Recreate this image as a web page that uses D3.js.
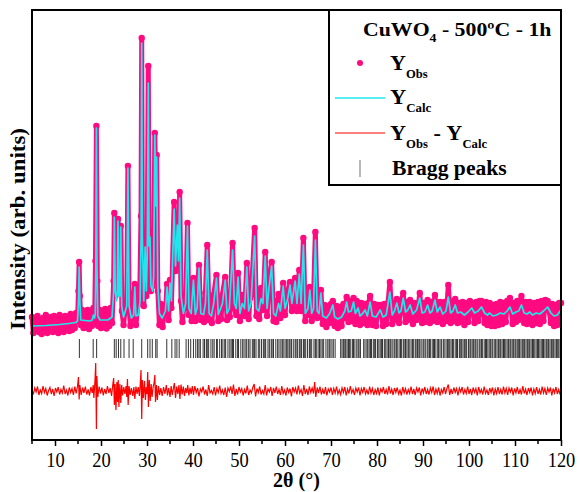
<!DOCTYPE html>
<html>
<head>
<meta charset="utf-8">
<script src="https://cdn.jsdelivr.net/npm/d3@7"></script>
<style>
  body { margin: 0; background: #fff; }
  svg text { font-family: "Liberation Serif", "DejaVu Serif", serif; }
</style>
</head>
<body>
<div id="chart"></div>
<script>
// ---- data (2theta in degrees, intensity in counts) ----

// calculated profile: valleys and peak tops
const calcProfile = [
  [5.0,200],[8.0,210],[11.0,230],[13.0,250],[14.5,270],[14.9,300],[15.1,700],[15.25,1380],[15.4,700],[15.6,320],
  [17.5,300],[18.1,320],[18.35,420],[18.6,360],[18.75,450],[18.88,1400],[19.0,4160],[19.12,1400],[19.3,400],[19.8,320],
  [21.5,320],[22.4,380],[22.75,900],[22.9,2380],[23.1,900],[23.35,700],[23.55,900],[23.7,2300],[23.9,800],[24.15,800],
  [24.3,2180],[24.5,600],[24.9,380],[25.6,600],[25.85,3360],[26.1,600],[26.6,360],[27.1,420],[27.35,980],[27.6,400],
  [28.1,420],[28.5,700],[28.72,2000],[28.85,5860],[28.98,2000],[29.3,700],[29.6,1780],[29.85,900],[30.05,1600],[30.28,5060],
  [30.45,1800],[30.65,1980],[30.85,1000],[31.25,900],[31.45,1200],[31.7,4020],[31.9,2600],[32.1,3580],[32.35,1000],[32.7,450],
  [33.3,360],[34.0,500],[34.35,980],[34.7,500],[35.0,1060],[35.3,700],[35.9,2540],[36.2,1400],[36.6,2220],[36.85,1500],
  [37.1,2760],[37.4,800],[37.9,450],[38.4,650],[38.8,2200],[39.1,550],[39.6,450],[40.1,1120],[40.5,430],[40.9,560],
  [41.3,1360],[41.7,450],[42.3,430],[42.7,650],[43.1,1720],[43.5,450],[44.0,400],[44.5,650],[45.1,1160],[45.5,430],
  [46.0,550],[46.4,650],[47.0,1120],[47.4,450],[47.9,550],[48.6,1720],[49.0,650],[49.4,550],[49.8,1180],[50.2,450],
  [50.7,650],[51.2,550],[51.7,1380],[52.1,500],[52.6,650],[53.4,2000],[53.8,550],[54.3,500],[54.8,750],[55.2,650],
  [55.7,1600],[56.1,550],[56.5,950],[57.1,1400],[57.5,450],[58.0,400],[58.6,650],[59.0,500],[59.6,1000],[60.0,550],
  [60.6,750],[61.1,1020],[61.5,650],[62.2,1100],[62.6,650],[63.1,1240],[63.5,650],[64.0,1820],[64.4,450],[65.0,550],
  [65.4,920],[65.8,450],[66.2,550],[66.6,1920],[67.0,500],[67.4,450],[67.8,860],[68.2,400],[69.0,360],[69.7,450],
  [70.4,620],[70.8,380],[71.5,340],[72.3,380],[73.0,500],[73.4,680],[73.8,480],[74.4,500],[74.9,680],[75.3,450],
  [75.9,560],[76.3,400],[76.9,450],[77.4,520],[77.9,400],[78.5,680],[79.0,400],[79.8,380],[80.7,520],[81.3,380],
  [82.0,420],[82.8,880],[83.3,420],[83.8,500],[84.3,660],[84.8,460],[85.2,500],[85.7,760],[86.2,480],[86.7,520],
  [87.2,620],[87.8,440],[88.6,520],[89.3,760],[89.8,460],[90.4,480],[91.0,620],[91.5,460],[92.0,500],[92.6,720],
  [93.1,480],[93.7,580],[94.3,440],[95.0,500],[95.5,780],[96.0,460],[96.5,500],[97.0,620],[97.5,460],[98.2,480],
  [99.0,420],[99.8,480],[100.6,560],[101.2,460],[102.0,500],[102.7,580],[103.4,460],[104.0,420],[104.5,460],[105.2,400],
  [106.0,420],[106.8,460],[107.6,440],[108.3,500],[108.9,580],[109.5,440],[110.2,480],[110.8,500],[111.4,620],[112.0,460],
  [112.6,440],[113.2,480],[113.8,420],[114.6,460],[115.4,440],[116.2,500],[117.1,580],[117.8,460],[118.5,400],[119.2,420],
  [120.0,520]
];

// observed points
const obsProfile = [
  [5.0,380],[5.3,60],[5.6,340],[5.9,120],[6.2,400],[6.5,80],[6.8,300],[7.1,40],[7.4,360],[7.7,100],
  [8.0,420],[8.3,60],[8.6,320],[8.9,140],[9.2,380],[9.5,80],[9.8,400],[10.1,100],[10.4,340],[10.7,60],
  [11.0,420],[11.3,120],[11.6,360],[11.9,80],[12.2,400],[12.5,140],[12.8,380],[13.1,100],[13.4,440],[13.7,120],
  [14.0,420],[14.3,160],[14.6,460],[14.9,300],[15.1,900],[15.25,1480],[15.4,800],[15.6,220],[15.9,520],[16.2,160],
  [16.5,480],[16.8,180],[17.1,520],[17.4,140],[17.7,500],[18.0,200],[18.35,560],[18.6,240],[18.8,1500],[19.0,4200],
  [19.2,1100],[19.4,200],[19.7,520],[20.0,160],[20.3,500],[20.6,180],[20.9,540],[21.2,150],[21.5,520],[21.8,200],
  [22.1,560],[22.4,260],[22.75,1100],[22.9,2460],[23.1,800],[23.4,900],[23.7,2340],[23.9,900],[24.1,900],[24.3,2200],
  [24.55,500],[24.9,220],[25.3,600],[25.6,700],[25.85,3400],[26.1,600],[26.4,200],[26.8,580],[27.35,1040],[27.6,220],
  [28.0,620],[28.4,700],[28.7,2400],[28.85,5960],[29.0,1600],[29.3,600],[29.6,1840],[29.85,800],[30.05,1800],[30.28,5400],
  [30.45,1700],[30.65,2060],[30.85,900],[31.2,1000],[31.45,1300],[31.7,4060],[31.9,2500],[32.1,3620],[32.35,900],[32.7,220],
  [33.0,640],[33.4,180],[33.7,600],[34.0,420],[34.35,1040],[34.7,320],[35.0,1120],[35.3,560],[35.9,2680],[36.2,1300],
  [36.6,2300],[36.85,1400],[37.1,2880],[37.4,700],[37.7,280],[38.1,680],[38.4,560],[38.8,2260],[39.1,420],[39.4,760],
  [39.7,300],[40.1,1160],[40.5,300],[40.9,760],[41.3,1420],[41.7,320],[42.0,700],[42.4,280],[42.7,860],[43.1,1820],
  [43.5,320],[43.8,720],[44.1,260],[44.5,820],[45.1,1220],[45.5,300],[45.8,740],[46.1,340],[46.4,820],[47.0,1180],
  [47.4,320],[47.7,720],[48.0,380],[48.6,1860],[49.0,560],[49.4,420],[49.8,1260],[50.2,300],[50.5,720],[50.8,820],
  [51.2,400],[51.7,1460],[52.1,340],[52.4,760],[52.7,820],[53.4,2160],[53.8,400],[54.1,760],[54.4,340],[54.8,960],
  [55.2,520],[55.7,1680],[56.1,400],[56.5,1080],[57.1,1480],[57.5,300],[57.8,700],[58.1,280],[58.6,840],[59.0,360],
  [59.6,1060],[60.0,420],[60.3,780],[60.6,900],[61.1,1080],[61.5,500],[61.8,860],[62.2,1160],[62.6,500],[63.1,1320],
  [63.5,500],[64.0,1960],[64.4,300],[64.7,760],[65.0,420],[65.4,980],[65.8,300],[66.2,760],[66.6,2080],[67.0,360],
  [67.4,680],[67.8,920],[68.2,240],[68.6,620],[69.0,180],[69.4,600],[69.7,260],[70.0,640],[70.4,700],[70.8,200],
  [71.2,600],[71.5,160],[71.9,580],[72.3,200],[72.7,640],[73.0,360],[73.4,780],[73.8,280],[74.1,700],[74.4,300],
  [74.9,760],[75.3,240],[75.6,700],[75.9,640],[76.3,220],[76.6,660],[76.9,260],[77.4,640],[77.9,220],[78.2,660],
  [78.5,800],[79.0,220],[79.4,640],[79.8,200],[80.2,620],[80.7,620],[81.3,200],[81.6,640],[82.0,240],[82.4,660],
  [82.8,1080],[83.3,240],[83.6,660],[83.8,320],[84.3,740],[84.8,260],[85.2,660],[85.7,860],[86.2,280],[86.5,680],
  [86.7,320],[87.2,720],[87.8,240],[88.2,660],[88.6,320],[89.3,860],[89.8,260],[90.1,660],[90.4,280],[91.0,720],
  [91.5,260],[91.8,680],[92.0,300],[92.6,820],[93.1,280],[93.4,660],[93.7,680],[94.3,240],[94.7,680],[95.0,300],
  [95.5,1020],[96.0,260],[96.3,680],[96.5,300],[97.0,740],[97.5,260],[97.8,660],[98.2,280],[98.6,680],[99.0,220],
  [99.4,660],[99.8,280],[100.2,700],[100.6,660],[101.2,260],[101.6,680],[102.0,300],[102.3,700],[102.7,700],[103.4,260],
  [103.7,680],[104.0,220],[104.5,660],[104.9,200],[105.2,620],[105.6,200],[106.0,640],[106.4,220],[106.8,680],[107.2,240],
  [107.6,660],[108.0,280],[108.3,700],[108.9,760],[109.5,240],[109.8,660],[110.2,280],[110.5,700],[110.8,320],[111.4,800],
  [112.0,260],[112.3,680],[112.6,240],[113.2,680],[113.8,220],[114.2,660],[114.6,260],[115.0,680],[115.4,240],[115.8,700],
  [116.2,300],[116.6,720],[117.1,700],[117.8,260],[118.1,640],[118.5,200],[118.9,620],[119.2,220],[119.6,660],[120.0,660]
];

// difference Yobs - Ycalc (drawn shifted down by diffOffset)
const diffProfile = [
  [5.0,30],[5.3,-70],[5.6,60],[5.9,-20],[6.2,90],[6.5,-80],[6.8,20],[7.1,-50],[7.4,100],[7.7,-30],
  [8.0,50],[8.3,-90],[8.6,10],[8.9,70],[9.2,-60],[9.5,40],[9.8,-100],[10.1,60],[10.4,-20],[10.7,80],
  [11.0,-70],[11.3,30],[11.6,-40],[11.9,110],[12.2,-60],[12.5,20],[12.8,-90],[13.1,70],[13.4,-30],[13.7,50],
  [14.0,-80],[14.3,90],[14.6,-50],[14.9,100],[15.1,280],[15.25,-170],[15.4,120],[15.7,-80],[16.0,70],[16.3,-40],
  [16.6,90],[16.9,-70],[17.2,30],[17.5,-90],[17.8,80],[18.1,-40],[18.3,120],[18.45,-140],[18.7,220],[18.85,560],
  [19.0,-760],[19.1,300],[19.3,-120],[19.6,90],[19.9,-50],[20.2,70],[20.5,-90],[20.8,40],[21.1,-60],[21.4,100],
  [21.7,-40],[22.0,60],[22.3,-100],[22.55,120],[22.75,260],[22.9,-280],[23.05,140],[23.25,-380],[23.45,180],[23.6,-220],
  [23.75,220],[23.9,-320],[24.1,140],[24.3,-240],[24.5,120],[24.7,-90],[24.95,80],[25.2,-60],[25.45,100],[25.6,-120],
  [25.75,240],[25.9,-280],[26.1,100],[26.35,-80],[26.6,60],[26.9,-100],[27.15,80],[27.35,-160],[27.6,90],[27.85,-60],
  [28.1,80],[28.35,-100],[28.55,160],[28.7,420],[28.85,-560],[29.0,220],[29.2,-140],[29.45,200],[29.65,-180],[29.85,80],
  [30.0,-60],[30.15,380],[30.3,-320],[30.5,220],[30.7,-200],[30.9,140],[31.1,-120],[31.35,90],[31.55,160],[31.7,320],
  [31.85,-220],[32.05,120],[32.25,-180],[32.5,100],[32.75,-80],[33.0,60],[33.3,-100],[33.6,80],[33.9,-60],[34.2,120],
  [34.45,-90],[34.7,60],[35.0,-120],[35.25,100],[35.5,-80],[35.75,60],[35.95,160],[36.2,-140],[36.45,90],[36.7,-60],
  [36.95,120],[37.15,-160],[37.4,130],[37.65,-70],[37.9,90],[38.15,-100],[38.4,60],[38.65,-40],[38.85,120],[39.1,-90],
  [39.35,70],[39.6,-60],[39.85,100],[40.1,-80],[40.4,100],[40.7,-30],[41.0,60],[41.3,-110],[41.6,40],[41.9,-20],
  [42.2,90],[42.5,-70],[42.8,30],[43.1,-100],[43.4,120],[43.7,-40],[44.0,10],[44.3,-60],[44.6,80],[44.9,-90],
  [45.2,50],[45.5,-30],[45.8,110],[46.1,-50],[46.4,20],[46.7,-80],[47.0,70],[47.3,-120],[47.6,60],[47.9,-10],
  [48.2,90],[48.5,-60],[48.8,130],[49.1,-100],[49.4,40],[49.7,-70],[50.0,80],[50.3,-20],[50.6,50],[50.9,-90],
  [51.2,30],[51.5,-50],[51.8,110],[52.1,-80],[52.4,20],[52.7,-40],[53.0,70],[53.3,140],[53.6,-110],[53.9,50],
  [54.2,-30],[54.5,90],[54.8,-70],[55.1,10],[55.4,-60],[55.7,120],[56.0,-90],[56.3,40],[56.6,-20],[56.9,80],
  [57.2,-100],[57.5,60],[57.8,-40],[58.1,90],[58.4,-60],[58.7,30],[59.0,-80],[59.3,100],[59.6,-50],[59.9,20],
  [60.2,-90],[60.5,70],[60.8,-30],[61.1,50],[61.4,-110],[61.7,80],[62.0,-20],[62.3,60],[62.6,-70],[62.9,110],
  [63.2,-40],[63.5,30],[63.8,-100],[64.1,120],[64.4,-60],[64.7,40],[65.0,-80],[65.3,90],[65.6,-30],[65.9,60],
  [66.2,-50],[66.45,180],[66.7,-120],[67.0,70],[67.3,-40],[67.6,90],[67.9,-70],[68.2,30],[68.5,-60],[68.8,80],
  [69.1,-90],[69.4,40],[69.7,-20],[70.0,70],[70.3,-80],[70.6,50],[70.9,-40],[71.2,90],[71.5,-60],[71.8,20],
  [72.1,-70],[72.4,60],[72.7,-30],[73.0,80],[73.3,-90],[73.6,40],[73.9,-50],[74.2,100],[74.5,-40],[74.8,30],
  [75.1,-80],[75.4,60],[75.7,-20],[76.0,70],[76.3,-90],[76.6,50],[76.9,-30],[77.2,80],[77.5,-60],[77.8,20],
  [78.1,-70],[78.4,90],[78.7,-40],[79.0,50],[79.3,-80],[79.6,30],[79.9,-50],[80.2,70],[80.5,-90],[80.8,40],
  [81.1,-20],[81.4,80],[81.7,-60],[82.0,30],[82.3,-70],[82.6,100],[82.9,-50],[83.2,40],[83.5,-80],[83.8,60],
  [84.1,-30],[84.4,70],[84.7,-60],[85.0,20],[85.3,-90],[85.6,80],[85.9,-40],[86.2,50],[86.5,-70],[86.8,30],
  [87.1,-50],[87.4,90],[87.7,-60],[88.0,40],[88.3,-80],[88.6,60],[88.9,-20],[89.2,70],[89.5,-90],[89.8,50],
  [90.1,-40],[90.4,80],[90.7,-60],[91.0,30],[91.3,-70],[91.6,60],[91.9,-30],[92.2,90],[92.5,-80],[92.8,40],
  [93.1,-50],[93.4,70],[93.7,-90],[94.0,30],[94.3,-40],[94.6,80],[94.9,-60],[95.2,50],[95.5,130],[95.8,-80],
  [96.1,40],[96.4,-60],[96.7,70],[97.0,-30],[97.3,50],[97.6,-90],[97.9,60],[98.2,-20],[98.5,80],[98.8,-70],
  [99.1,30],[99.4,-50],[99.7,90],[100.0,-60],[100.3,40],[100.6,-80],[100.9,70],[101.2,-30],[101.5,50],[101.8,-90],
  [102.1,80],[102.4,-40],[102.7,30],[103.0,-70],[103.3,90],[103.6,-50],[103.9,20],[104.2,-80],[104.5,60],[104.8,-30],
  [105.1,70],[105.4,-90],[105.7,40],[106.0,-50],[106.3,80],[106.6,-60],[106.9,30],[107.2,-70],[107.5,90],[107.8,-40],
  [108.1,50],[108.4,-80],[108.7,60],[109.0,-20],[109.3,70],[109.6,-90],[109.9,50],[110.2,-40],[110.5,80],[110.8,-60],
  [111.1,30],[111.4,-70],[111.7,100],[112.0,-50],[112.3,40],[112.6,-80],[112.9,60],[113.2,-30],[113.5,70],[113.8,-90],
  [114.1,40],[114.4,-50],[114.7,80],[115.0,-60],[115.3,30],[115.6,-70],[115.9,90],[116.2,-40],[116.5,50],[116.8,-80],
  [117.1,60],[117.4,-20],[117.7,70],[118.0,-90],[118.3,50],[118.6,-40],[118.9,80],[119.2,-60],[119.5,30],[119.8,-70],
  [120.0,40]
];

// Bragg reflection positions (2theta)
const braggPeaks = [
  15.3, 18.3, 19.05, 22.9, 23.3, 23.8, 24.3, 25.0, 26.1, 27.0, 28.85, 30.15, 30.65, 31.15, 31.9, 32.2,
  34.3, 35.4, 36.1, 36.5, 37.0, 38.5, 39.0, 39.5,
  40.1, 40.6, 41.0, 41.3, 41.6, 42.2, 42.5, 42.9, 43.1, 43.4, 43.9, 44.3, 44.6, 45.1, 45.3, 45.8, 46.2, 46.5,
  46.9, 47.1, 47.6, 48.0, 48.3, 48.6, 48.8, 49.3, 49.7, 49.9, 50.4, 50.8, 51.1, 51.5, 51.7, 52.1, 52.4, 52.9,
  53.2, 53.4, 53.7, 54.2, 54.5, 54.9, 55.3, 55.6, 55.8, 56.3, 56.6, 57.0, 57.2, 57.5, 58.0, 58.4, 58.7, 59.1,
  59.4, 59.6, 60.0, 60.3, 60.6, 60.9, 61.1, 61.4, 61.8, 62.2, 62.4, 62.7, 63.1, 63.3, 63.6, 64.0, 64.2, 64.5,
  64.9, 65.3, 65.5, 65.8, 66.3, 66.6, 66.8, 67.2, 67.5, 67.8, 68.1, 68.4, 68.9, 69.3, 69.6, 69.8, 70.2, 70.5,
  70.9, 72.1, 72.4, 72.7, 73.0, 73.2, 73.5, 73.8, 74.0, 74.3, 74.7, 74.9, 75.2, 75.6, 75.9, 76.1, 76.4, 77.1,
  77.4, 77.8, 78.0, 78.3, 78.6, 78.8, 79.2, 79.5, 79.7, 80.1, 80.4, 80.7, 81.0, 81.2, 81.6, 81.9, 82.2, 82.5,
  82.8, 83.0, 83.3, 83.7, 83.9, 84.2, 84.4, 84.8, 85.1, 85.3, 85.7, 85.9, 86.2, 86.5, 86.8, 87.0, 87.4, 87.7,
  87.9, 88.3, 88.5, 88.8, 89.1, 89.3, 89.6, 90.0, 90.2, 90.5, 90.9, 91.1, 91.4, 91.6, 92.0, 92.3, 92.5, 92.8,
  93.2, 93.4, 93.7, 94.0, 94.4, 94.6, 95.0, 95.3, 95.5, 95.8, 96.1, 96.4, 96.6, 97.0, 97.3, 97.5, 97.9, 98.1,
  98.4, 98.7, 99.0, 99.3, 99.5, 99.9, 100.2, 100.4, 100.7, 101.0, 101.3, 101.5, 101.8, 102.2, 102.4, 102.7,
  102.9, 103.3, 103.6, 103.8, 104.1, 104.4, 104.7, 105.0, 105.2, 105.6, 105.8, 106.1, 106.4, 106.7, 106.9,
  107.2, 107.5, 107.7, 108.0, 108.3, 108.6, 108.9, 109.1, 109.4, 109.7, 110.0, 110.2, 110.5, 110.8, 111.0,
  111.3, 111.6, 111.9, 112.1, 112.4, 112.7, 113.0, 113.2, 113.5, 113.8, 114.0, 114.3, 114.6, 114.9, 115.1,
  115.4, 115.7, 116.0, 116.2, 116.5, 116.8, 117.0, 117.3, 117.6, 117.9, 118.1, 118.4, 118.7, 119.0, 119.2,
  119.5, 119.8
];

const majorTicks = [10, 20, 30, 40, 50, 60, 70, 80, 90, 100, 110, 120];
const minorTicks = [5, 15, 25, 35, 45, 55, 65, 75, 85, 95, 105, 115];

const diffOffset = -1100;           // where the zero of the difference curve sits
const braggRange = [-440, -60];     // vertical extent of the Bragg markers

const pink = "#ff0a80", cyan = "#1ee8ee", red = "#ff0000";

const margin = {top: 10, right: 19, bottom: 52, left: 32};
const width = 580 - margin.left - margin.right;
const height = 492 - margin.top - margin.bottom;

const svg = d3.select("#chart").append("svg")
    .attr("width", 580)
    .attr("height", 492)
  .append("g")
    .attr("transform", `translate(${margin.left},${margin.top})`);

const x = d3.scaleLinear().domain([5, 120]).range([0, width]);
const y = d3.scaleLinear().domain([-2080, 6520]).range([height, 0]);

const line = d3.line().x(d => x(d[0])).y(d => y(d[1]));

// stretch a left-anchored text horizontally to a given width
function fitWidth(sel, target) {
  const b = sel.node().getBBox();
  const k = target / b.width;
  sel.attr("transform", `translate(${b.x * (1 - k)},0) scale(${k},1)`);
}

// observed: thick band + dots
svg.append("path")
    .attr("d", line(obsProfile))
    .attr("fill", "none")
    .attr("stroke", pink)
    .attr("stroke-width", 5)
    .attr("stroke-linejoin", "round")
    .attr("stroke-linecap", "round");

svg.selectAll("circle.obs")
    .data(obsProfile)
    .join("circle")
    .attr("class", "obs")
    .attr("cx", d => x(d[0]))
    .attr("cy", d => y(d[1]))
    .attr("r", 3.2)
    .attr("fill", pink);

// calculated
svg.append("path")
    .attr("d", line(calcProfile))
    .attr("fill", "none")
    .attr("stroke", cyan)
    .attr("stroke-width", 1.7)
    .attr("stroke-linejoin", "round");

// Bragg markers
svg.append("g")
  .selectAll("line")
  .data(braggPeaks)
  .join("line")
    .attr("x1", d => x(d)).attr("x2", d => x(d))
    .attr("y1", y(braggRange[1])).attr("y2", y(braggRange[0]))
    .attr("stroke", "#111")
    .attr("stroke-opacity", 0.85)
    .attr("stroke-width", 1);

// difference
const diffLine = d3.line().x(d => x(d[0])).y(d => y(d[1] + diffOffset));
svg.append("path")
    .attr("d", diffLine(diffProfile))
    .attr("fill", "none")
    .attr("stroke", red)
    .attr("stroke-width", 1.2);

// frame
svg.append("rect")
    .attr("width", width).attr("height", height)
    .attr("fill", "none")
    .attr("stroke", "#000")
    .attr("stroke-width", 2);

// x axis
const xAxis = svg.append("g")
    .attr("transform", `translate(0,${height})`)
    .call(d3.axisBottom(x).tickValues(majorTicks).tickSize(6).tickPadding(5).tickFormat(d3.format("d")));
xAxis.select(".domain").remove();
xAxis.selectAll(".tick line").attr("stroke-width", 1.5);
xAxis.selectAll("text")
    .style("font-family", "'Liberation Serif', serif")
    .attr("font-size", 22)
    .attr("transform", "scale(0.84,1)")
    .attr("fill", "#000");

svg.append("g")
    .attr("transform", `translate(0,${height})`)
    .selectAll("line")
    .data(minorTicks)
    .join("line")
    .attr("x1", d => x(d)).attr("x2", d => x(d))
    .attr("y1", 0).attr("y2", 4)
    .attr("stroke", "#000").attr("stroke-width", 1.5);

// axis titles
svg.append("text")
    .attr("x", width / 2)
    .attr("y", height + 47)
    .attr("text-anchor", "middle")
    .attr("font-weight", "bold")
    .attr("font-size", 20)
    .text("2θ (°)");

svg.append("text")
    .attr("transform", "rotate(-90)")
    .attr("x", -219)
    .attr("y", -7)
    .attr("text-anchor", "middle")
    .attr("font-weight", "bold")
    .attr("font-size", 20)
    .attr("textLength", 202)
    .attr("lengthAdjust", "spacingAndGlyphs")
    .text("Intensity (arb. units)");

// legend
const lg = svg.append("g").attr("transform", `translate(${x(5) + 297},0)`);
lg.append("rect")
    .attr("width", width - 297).attr("height", 175)
    .attr("fill", "#fff")
    .attr("stroke", "#000")
    .attr("stroke-width", 2);

const title = lg.append("text")
    .attr("x", 34).attr("y", 26)
    .attr("font-weight", "bold")
    .attr("font-size", 19);
title.append("tspan").text("CuWO");
title.append("tspan").attr("font-size", 12).attr("dy", 6).text("4");
title.append("tspan").attr("dy", -6).text(" - 500ºC - 1h");
fitWidth(title, 189);

function legendLabel(yPos, parts, w) {
  const t = lg.append("text")
      .attr("x", 61).attr("y", yPos)
      .attr("font-weight", "bold")
      .attr("font-size", 21);
  parts.forEach(p => {
    t.append("tspan").text(p[0]);
    t.append("tspan").attr("font-size", 12).attr("dy", 8).text(p[1]);
    t.append("tspan").attr("dy", -8).text(p[2] || "");
  });
  fitWidth(t, w);
}

lg.append("circle").attr("cx", 31).attr("cy", 53).attr("r", 3).attr("fill", pink);
legendLabel(60, [["Y", "Obs"]], 38);

lg.append("line").attr("x1", 6).attr("x2", 56).attr("y1", 88).attr("y2", 88)
    .attr("stroke", cyan).attr("stroke-width", 1.6);
legendLabel(94, [["Y", "Calc"]], 42);

lg.append("line").attr("x1", 6).attr("x2", 56).attr("y1", 123).attr("y2", 123)
    .attr("stroke", red).attr("stroke-width", 1.2);
legendLabel(130, [["Y", "Obs", " - "], ["Y", "Calc"]], 97);

lg.append("line").attr("x1", 31).attr("x2", 31).attr("y1", 150).attr("y2", 167)
    .attr("stroke", "#888").attr("stroke-width", 1.2);
const bragg = lg.append("text")
    .attr("x", 63).attr("y", 165)
    .attr("font-weight", "bold")
    .attr("font-size", 20)
    .text("Bragg peaks");
fitWidth(bragg, 115);
</script>
</body>
</html>
